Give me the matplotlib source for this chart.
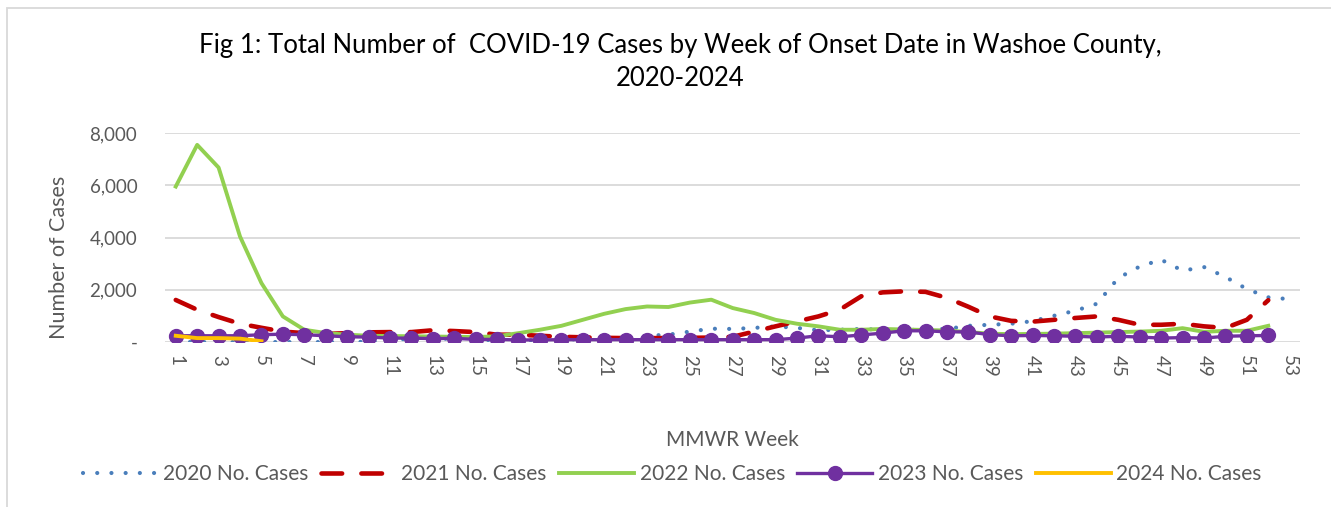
import matplotlib.pyplot as plt
from matplotlib.patches import Rectangle
from matplotlib.ticker import FuncFormatter

plt.rcParams["font.family"] = ["Lato", "DejaVu Sans"]

# MMWR weeks
weeks_2020 = list(range(1, 54))
weeks_52 = list(range(1, 53))
weeks_2024 = list(range(1, 6))

cases_2020 = [0, 0, 0, 0, 0, 0, 0, 0, 0, 10,
              60, 140, 150, 110, 80, 70, 60, 70, 90, 110,
              130, 160, 240, 280, 400, 510, 500, 540, 600, 540,
              450, 470, 500, 470, 450, 480, 500, 620, 660, 700,
              800, 1005, 1200, 1465, 2450, 2890, 3150, 2730, 2870, 2490,
              2030, 1710, 1640]

cases_2021 = [1610, 1235, 955, 700, 545, 400, 340, 310, 340, 370,
              380, 380, 450, 420, 380, 280, 280, 240, 200, 180,
              160, 150, 150, 150, 160, 170, 200, 400, 600, 790,
              980, 1240, 1750, 1900, 1940, 1920, 1690, 1350, 980, 810,
              780, 850, 920, 980, 850, 660, 660, 700, 600, 540,
              850, 1600]

cases_2022 = [5950, 7545, 6677, 4038, 2256, 980, 470, 344, 280, 240,
              230, 220, 210, 200, 190, 220, 340, 470, 620, 850,
              1080, 1260, 1360, 1340, 1510, 1620, 1300, 1110, 850, 700,
              600, 470, 470, 500, 480, 460, 440, 380, 320, 300,
              310, 320, 340, 360, 380, 400, 430, 530, 390, 430,
              430, 620]

cases_2023 = [240, 240, 240, 240, 280, 300, 280, 240, 200, 190,
              150, 150, 130, 140, 100, 100, 80, 80, 90, 90,
              90, 90, 90, 90, 90, 90, 90, 90, 90, 150,
              240, 200, 270, 340, 430, 430, 390, 390, 280, 240,
              250, 240, 220, 190, 220, 190, 150, 170, 150, 220,
              240, 250]

cases_2024 = [240, 150, 150, 130, 30]

xtick_labels = [str(w) for w in range(1, 54, 2)]

gray_text = "#595959"

fig = plt.figure(figsize=(13.31, 5.07), dpi=100)
ax = fig.add_axes([0.124, 0.3254, 0.853, 0.4123])

ax.plot(weeks_2020, cases_2020, color="#4A7EBB", lw=3.0,
        linestyle=(0, (0.01, 3.4)), dash_capstyle="round",
        label="2020 No. Cases", zorder=2)
ax.plot(weeks_52, cases_2021, color="#C00000", lw=3.3,
        linestyle=(0, (4.5, 4.2)), dash_capstyle="round",
        label="2021 No. Cases", zorder=3)
ax.plot(weeks_52, cases_2022, color="#92D050", lw=2.8,
        label="2022 No. Cases", zorder=4)
ax.plot(weeks_52, cases_2023, color="#7030A0", lw=2.4,
        marker="o", markersize=10, label="2023 No. Cases", zorder=5)
ax.plot(weeks_2024, cases_2024, color="#FFC000", lw=2.8,
        label="2024 No. Cases", zorder=6)

ax.set_xlim(0.5, 53.5)
ax.set_ylim(0, 8000)
ax.set_yticks([0, 2000, 4000, 6000, 8000])
ax.yaxis.set_major_formatter(
    FuncFormatter(lambda v, p: "-" if v == 0 else f"{int(v):,}"))
ax.set_xticks(list(range(1, 54, 2)))
ax.set_xticklabels(xtick_labels, rotation=-90)

ax.grid(axis="y", color="#D9D9D9", lw=1.3)
ax.set_axisbelow(True)
for s in ax.spines.values():
    s.set_visible(False)
ax.tick_params(axis="both", length=0, colors=gray_text, labelsize=13.5)
ax.tick_params(axis="y", pad=20)
ax.tick_params(axis="x", pad=9)

ax.set_ylabel("Number of Cases", fontsize=15.5, color=gray_text)
ax.yaxis.set_label_coords(-0.085, 0.407)

fig.text(0.55, 0.132, "MMWR Week", ha="center", va="center",
         fontsize=15, color=gray_text)

fig.text(0.511, 0.91, "Fig 1: Total Number of  COVID-19 Cases by Week of Onset Date in Washoe County,",
         ha="center", va="center", fontsize=18.5, color="black")
fig.text(0.511, 0.845, "2020-2024", ha="center", va="center",
         fontsize=18.5, color="black")

ax.legend(loc="center", bbox_to_anchor=(0.505, 0.065),
          bbox_transform=fig.transFigure, ncol=5, frameon=False,
          fontsize=15, labelcolor=gray_text, handlelength=3.6,
          columnspacing=0.6, handletextpad=0.25)

fig.patches.append(Rectangle((7 / 1331, -0.1), 1.2, 1 - 8 / 507 + 0.1,
                             transform=fig.transFigure, fill=False,
                             edgecolor="#D9D9D9", lw=1.3))

fig.savefig("out.png", dpi=100)
